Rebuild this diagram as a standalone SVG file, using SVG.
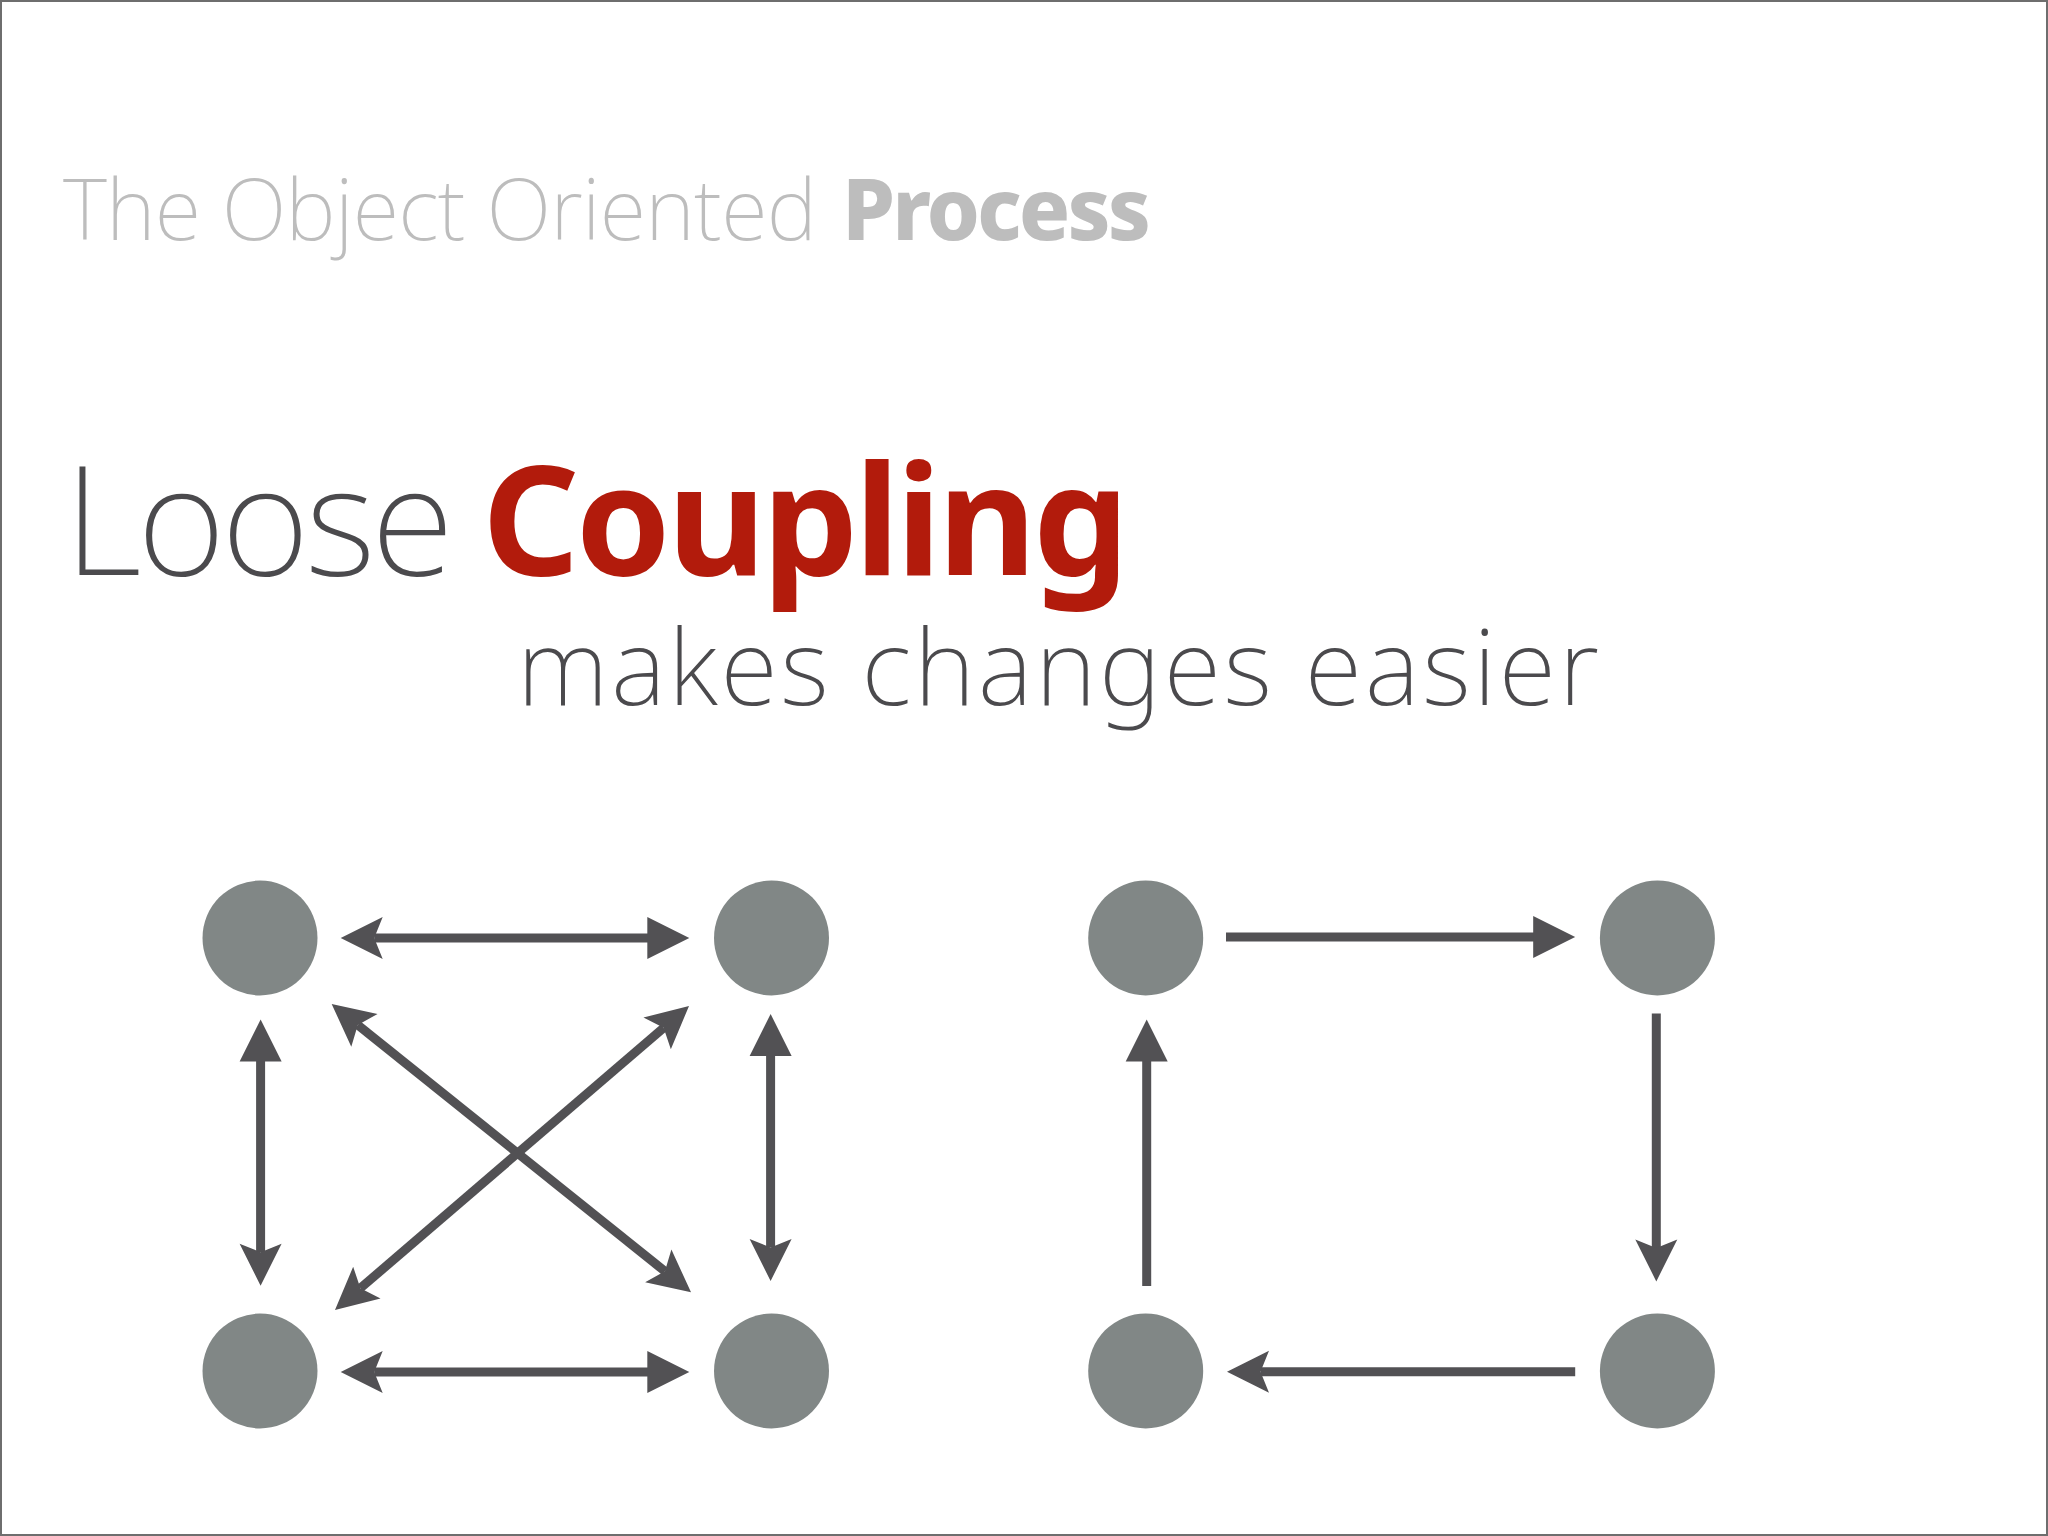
<svg xmlns="http://www.w3.org/2000/svg" width="2048" height="1536" viewBox="0 0 2048 1536">
  <style>
    .title { font-family: "Noto Sans", "Open Sans", "Liberation Sans", sans-serif; fill: #bdbdbd; font-size: 85px; }
    .thin { font-weight: 200; }
    .heavy { font-weight: 800; }
    .head { font-family: "Noto Sans", "Open Sans", "Liberation Sans", sans-serif; font-size: 152px; }
    .sub { font-family: "Noto Sans", "Open Sans", "Liberation Sans", sans-serif; font-size: 105px; font-weight: 200; fill: #4b4a4d; }
    .node { fill: #818786; }
    .conn { stroke: #525154; stroke-width: 9; fill: none; stroke-linecap: butt; }
  </style>
  <defs>
    <marker id="flat" markerUnits="userSpaceOnUse" markerWidth="50" markerHeight="50" refX="0" refY="0" orient="auto-start-reverse" overflow="visible">
      <path d="M-1,-21 L41,0 L-1,21 Z" fill="#525154"/>
    </marker>
    <marker id="notch" markerUnits="userSpaceOnUse" markerWidth="50" markerHeight="50" refX="0" refY="0" orient="auto-start-reverse" overflow="visible">
      <path d="M33.5,0 L-8.5,21 L0,0 L-8.5,-21 Z" fill="#525154"/>
    </marker>
  </defs>
  <rect x="0" y="0" width="2048" height="1536" fill="#ffffff"/>
  <rect x="1" y="1" width="2046" height="1534" fill="none" stroke="#6e6e6e" stroke-width="2"/>

  <g id="title">
    <text class="title thin" x="63" y="240" textLength="754" lengthAdjust="spacing">The Object Oriented</text>
    <text class="title heavy" x="842" y="240" textLength="309" lengthAdjust="spacing">Process</text>
  </g>
  <g id="heading">
    <text class="head" x="64" y="575" font-weight="200" fill="#4b4a4d" textLength="390" lengthAdjust="spacing">Loose</text>
    <text class="head" x="482" y="575" font-weight="700" fill="#b21b0c" textLength="647" lengthAdjust="spacing">Coupling</text>
  </g>
  <g id="subtitle">
    <text class="sub" x="517" y="705" textLength="1082" lengthAdjust="spacing">makes changes easier</text>
  </g>

  <g id="connectors">
    <!-- tightly coupled (left) -->
    <line class="conn" x1="374.2" y1="938" x2="648.3" y2="938" marker-start="url(#notch)" marker-end="url(#flat)"/>
    <line class="conn" x1="374.2" y1="1372" x2="648.3" y2="1372" marker-start="url(#notch)" marker-end="url(#flat)"/>
    <line class="conn" x1="260.6" y1="1060.6" x2="260.6" y2="1252.2" marker-start="url(#flat)" marker-end="url(#notch)"/>
    <line class="conn" x1="770.6" y1="1055" x2="770.6" y2="1247.5" marker-start="url(#flat)" marker-end="url(#notch)"/>
    <line class="conn" x1="357.8" y1="1025" x2="664.9" y2="1271.3" marker-start="url(#notch)" marker-end="url(#notch)"/>
    <line class="conn" x1="360.4" y1="1288.2" x2="663.6" y2="1027.8" marker-start="url(#notch)" marker-end="url(#notch)"/>
    <!-- loosely coupled (right) -->
    <line class="conn" x1="1226" y1="937" x2="1534.2" y2="937" marker-end="url(#flat)"/>
    <line class="conn" x1="1656.3" y1="1013.6" x2="1656.3" y2="1247.9" marker-end="url(#notch)"/>
    <line class="conn" x1="1575.2" y1="1371.8" x2="1260.5" y2="1371.8" marker-end="url(#notch)"/>
    <line class="conn" x1="1146.7" y1="1286" x2="1146.7" y2="1060.6" marker-end="url(#flat)"/>
  </g>

  <g id="node-a1"><circle class="node" cx="260" cy="938" r="57.5"/></g>
  <g id="node-a2"><circle class="node" cx="771.5" cy="938" r="57.5"/></g>
  <g id="node-a3"><circle class="node" cx="260" cy="1371" r="57.5"/></g>
  <g id="node-a4"><circle class="node" cx="771.5" cy="1371" r="57.5"/></g>
  <g id="node-b1"><circle class="node" cx="1145.7" cy="938" r="57.5"/></g>
  <g id="node-b2"><circle class="node" cx="1657.4" cy="938" r="57.5"/></g>
  <g id="node-b3"><circle class="node" cx="1145.7" cy="1371" r="57.5"/></g>
  <g id="node-b4"><circle class="node" cx="1657.4" cy="1371" r="57.5"/></g>
</svg>
